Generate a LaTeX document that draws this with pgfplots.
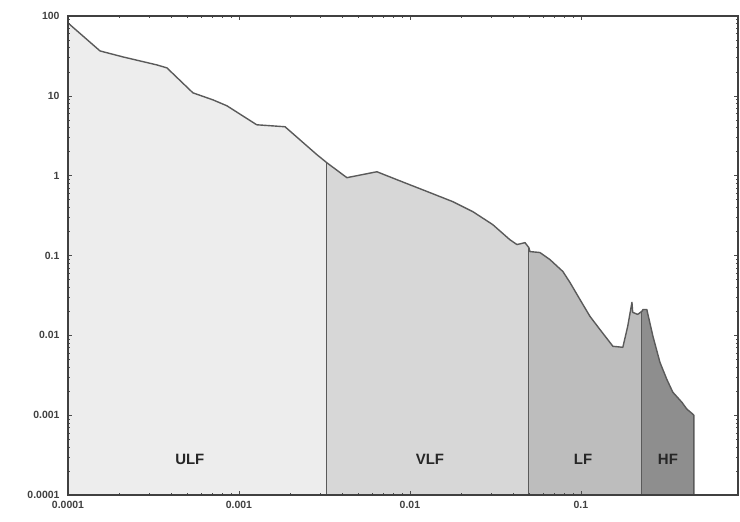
\documentclass[border=0pt]{standalone}
\usepackage{pgfplots}
\pgfplotsset{compat=1.18}
\usepackage{fontspec}
\setmainfont{Liberation Sans}
\definecolor{ulf}{HTML}{EDEDED}
\definecolor{vlf}{HTML}{D7D7D7}
\definecolor{lf}{HTML}{BDBDBD}
\definecolor{hf}{HTML}{8E8E8E}
\definecolor{curve}{HTML}{5A5A5A}
\begin{document}
\begin{tikzpicture}
\begin{axis}[name=ax,
  xmode=log, ymode=log, scale only axis,
  width=670bp, height=479bp,
  xmin=1e-4, xmax=0.83, ymin=1e-4, ymax=100,
  xtick={1e-4,1e-3,1e-2,1e-1},
  xticklabels={0.0001,0.001,0.01,0.1},
  ytick={1e-4,1e-3,1e-2,1e-1,1,10,100},
  yticklabels={0.0001,0.001,0.01,0.1,1,10,100},
  /pgf/number format/assume math mode=true,
  tick label style={font=\fontsize{10.5}{12}\selectfont\bfseries, text=black!75},
  xticklabel style={yshift=-3bp},
  yticklabel style={xshift=-5bp},
  axis line style={black!75, line width=1.2pt},
  major tick length=4bp, minor tick length=2bp,
  every tick/.style={black!70, line width=0.6pt},
  axis on top, clip=true]
% ULF region
\addplot[fill=ulf, draw=none] coordinates {
(1e-4,1e-4) (1e-4,81.8) (1.54e-4,36.5) (2.10e-4,30.7) (3.31e-4,24.4) (3.79e-4,22.4)
(5.38e-4,10.9) (7.05e-4,8.9) (8.51e-4,7.5) (1.27e-3,4.34) (1.86e-3,4.10)
(2.86e-3,1.83) (3.27e-3,1.45) (3.27e-3,1e-4)} -- cycle;
% VLF region
\addplot[fill=vlf, draw=none] coordinates {
(3.27e-3,1e-4) (3.27e-3,1.45) (4.28e-3,0.944) (6.41e-3,1.12) (8.40e-3,0.89)
(0.0131,0.613) (0.0178,0.473) (0.0233,0.355) (0.0305,0.244) (0.0384,0.158)
(0.0423,0.137) (0.0471,0.145) (0.0497,0.125) (0.0497,1e-4)} -- cycle;
% LF region
\addplot[fill=lf, draw=none] coordinates {
(0.0497,1e-4) (0.0497,0.125) (0.0503,0.112) (0.0576,0.109) (0.0659,0.089)
(0.0785,0.063) (0.0863,0.046) (0.0987,0.0282) (0.113,0.0173) (0.129,0.0119)
(0.154,0.00729) (0.176,0.00708) (0.188,0.0130) (0.199,0.0259) (0.201,0.0194)
(0.215,0.0183) (0.2275,0.0200) (0.2275,1e-4)} -- cycle;
% HF region
\addplot[fill=hf, draw=none] coordinates {
(0.2275,1e-4) (0.2275,0.0200) (0.231,0.0211) (0.243,0.0211) (0.264,0.00972)
(0.290,0.00460) (0.318,0.00282) (0.345,0.00194) (0.390,0.00145) (0.417,0.00119)
(0.452,0.00103) (0.458,0.00100) (0.458,1e-4)} -- cycle;
% boundaries
\addplot[curve, line width=1pt] coordinates {(3.27e-3,1e-4) (3.27e-3,1.45)};
\addplot[curve, line width=1pt] coordinates {(0.0497,1e-4) (0.0497,0.125)};
\addplot[curve, line width=1pt] coordinates {(0.2275,1e-4) (0.2275,0.0200)};
% spectrum outline
\addplot[curve, line width=1.4pt, line join=round] coordinates {
(1e-4,81.8) (1.54e-4,36.5) (2.10e-4,30.7) (3.31e-4,24.4) (3.79e-4,22.4)
(5.38e-4,10.9) (7.05e-4,8.9) (8.51e-4,7.5) (1.27e-3,4.34) (1.86e-3,4.10)
(2.86e-3,1.83) (3.27e-3,1.45) (4.28e-3,0.944) (6.41e-3,1.12) (8.40e-3,0.89)
(0.0131,0.613) (0.0178,0.473) (0.0233,0.355) (0.0305,0.244) (0.0384,0.158)
(0.0423,0.137) (0.0471,0.145) (0.0497,0.125) (0.0503,0.112) (0.0576,0.109)
(0.0659,0.089) (0.0785,0.063) (0.0863,0.046) (0.0987,0.0282) (0.113,0.0173)
(0.129,0.0119) (0.154,0.00729) (0.176,0.00708) (0.188,0.0130) (0.199,0.0259)
(0.201,0.0194) (0.215,0.0183) (0.2275,0.0200) (0.231,0.0211) (0.243,0.0211)
(0.264,0.00972) (0.290,0.00460) (0.318,0.00282) (0.345,0.00194) (0.390,0.00145)
(0.417,0.00119) (0.452,0.00103) (0.458,0.00100) (0.458,1e-4)};
\node[font=\fontsize{15}{17}\selectfont\bfseries, text=black!85] at (axis cs:5.16e-4,2.8e-4) {ULF};
\node[font=\fontsize{15}{17}\selectfont\bfseries, text=black!85] at (axis cs:0.0131,2.8e-4) {VLF};
\node[font=\fontsize{15}{17}\selectfont\bfseries, text=black!85] at (axis cs:0.103,2.8e-4) {LF};
\node[font=\fontsize{15}{17}\selectfont\bfseries, text=black!85] at (axis cs:0.323,2.8e-4) {HF};
\end{axis}
\pgfresetboundingbox
\path ([shift={(-68bp,-27bp)}]ax.south west) rectangle ([shift={(2bp,16bp)}]ax.north east);
\end{tikzpicture}
\end{document}
